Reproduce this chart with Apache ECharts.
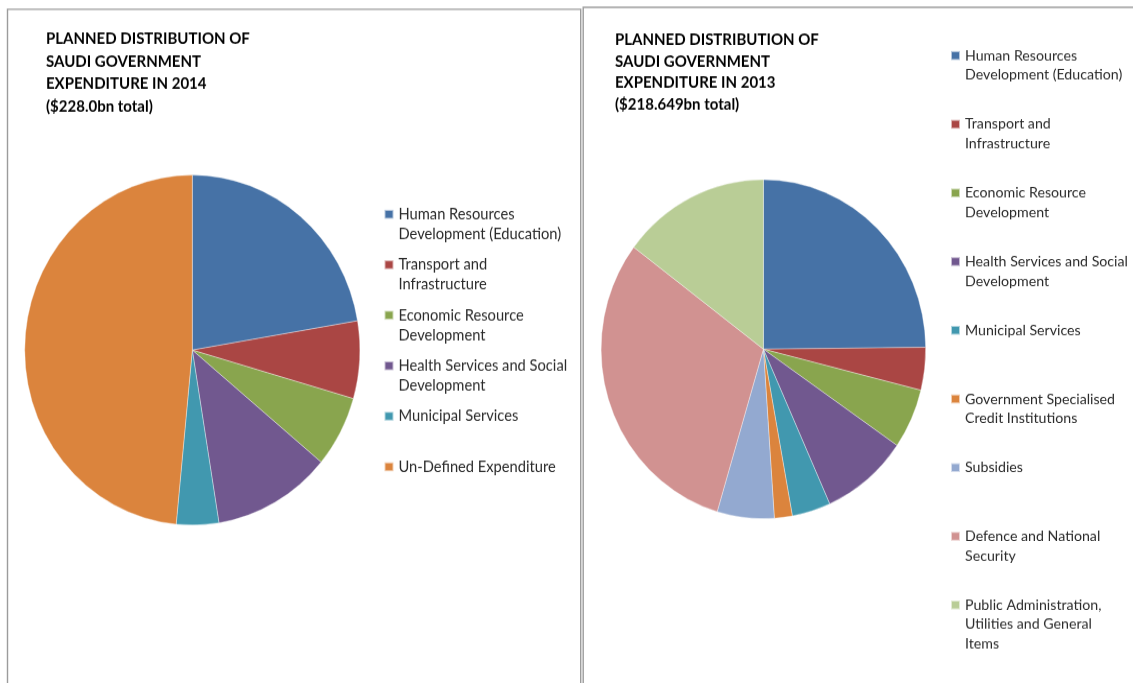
<!DOCTYPE html>
<html>
<head>
<meta charset="utf-8">
<script src="https://cdn.jsdelivr.net/npm/echarts@6/dist/echarts.min.js"></script>
<style>
html,body{margin:0;padding:0;background:#fff;width:1133px;height:683px;overflow:hidden;}
#c{width:1133px;height:654px;transform:scaleY(1.04434);transform-origin:0 0;}
</style>
</head>
<body>
<div id="c"></div>
<script>
// ---- data ----
const cats2014 = [
  'Human Resources Development (Education)',
  'Transport and Infrastructure',
  'Economic Resource Development',
  'Health Services and Social Development',
  'Municipal Services',
  'Un-Defined Expenditure'
];
const vals2014 = [50.9, 16.3, 15.0, 26.0, 9.3, 110.5];
const legendLines2014 = [
  ['Human Resources', 'Development (Education)'],
  ['Transport and', 'Infrastructure'],
  ['Economic Resource', 'Development'],
  ['Health Services and Social', 'Development'],
  ['Municipal Services'],
  ['Un-Defined Expenditure']
];

const cats2013 = [
  'Human Resources Development (Education)',
  'Transport and Infrastructure',
  'Economic Resource Development',
  'Health Services and Social Development',
  'Municipal Services',
  'Government Specialised Credit Institutions',
  'Subsidies',
  'Defence and National Security',
  'Public Administration, Utilities and General Items'
];
const vals2013 = [54.3, 8.9, 12.5, 19.0, 8.4, 3.9, 12.4, 67.1, 32.2];
const legendLines2013 = [
  ['Human Resources', 'Development (Education)'],
  ['Transport and', 'Infrastructure'],
  ['Economic Resource', 'Development'],
  ['Health Services and Social', 'Development'],
  ['Municipal Services'],
  ['Government Specialised', 'Credit Institutions'],
  ['Subsidies'],
  ['Defence and National', 'Security'],
  ['Public Administration,', 'Utilities and General', 'Items']
];

const title2014 = 'PLANNED DISTRIBUTION OF\nSAUDI GOVERNMENT\nEXPENDITURE IN 2014\n($228.0bn total)';
const title2013 = 'PLANNED DISTRIBUTION OF\nSAUDI GOVERNMENT\nEXPENDITURE IN 2013\n($218.649bn total)';

// ---- styles ----
const colors2014 = ['#4672A6', '#AA4644', '#89A54E', '#71588F', '#4198AF', '#DB843D'];
const colors2013 = ['#4672A6', '#AA4644', '#89A54E', '#71588F', '#4198AF', '#DB843D', '#93A9D0', '#D19291', '#B9CD96'];

function padLines(lines, n) {
  const k = Math.floor((n - 1) / 2);
  const out = [];
  for (let i = 0; i < k; i++) out.push('');
  lines.forEach(l => out.push(l));
  while (out.length < n) out.push('');
  return out.join('\n');
}
function makeFormatter(cats, lines, n) {
  const map = {};
  cats.forEach((c, i) => { map[c] = padLines(lines[i], n); });
  return name => map[name];
}

const chart = echarts.init(document.getElementById('c'), null, {renderer: 'canvas'});
const FONT = 'Lato, "Open Sans", sans-serif';

const option = {
  animation: false,
  backgroundColor: '#ffffff',
  title: [
    {
      text: title2014, left: 46, top: 26.0, padding: 0,
      textStyle: {fontFamily: FONT, fontWeight: 'bold', fontSize: 15, lineHeight: 21.8, color: '#000'}
    },
    {
      text: title2013, left: 615, top: 27.6, padding: 0,
      textStyle: {fontFamily: FONT, fontWeight: 'bold', fontSize: 15, lineHeight: 20.8, color: '#000'}
    }
  ],
  legend: [
    {
      orient: 'vertical', left: 383.5, top: 176.4, padding: 0,
      itemWidth: 9, itemHeight: 8.5, itemGap: -9.09, icon: 'rect',
      selectedMode: false,
      data: cats2014,
      formatter: makeFormatter(cats2014, legendLines2014, 3),
      textStyle: {fontFamily: FONT, fontSize: 14.7, lineHeight: 19.15, color: '#2b2b2b'}
    },
    {
      orient: 'vertical', left: 950, top: 6.89, padding: 0,
      itemWidth: 9, itemHeight: 8.5, itemGap: -26.73, icon: 'rect',
      selectedMode: false,
      data: cats2013,
      formatter: makeFormatter(cats2013, legendLines2013, 5),
      textStyle: {fontFamily: FONT, fontSize: 14.2, lineHeight: 18.5, color: '#2b2b2b'}
    }
  ],
  graphic: [
    {type: 'rect', silent: true, shape: {x: 7.5, y: 8.9, width: 573.2, height: 700},
     style: {fill: 'none', stroke: '#9c9c9c', lineWidth: 1.4}},
    {type: 'rect', silent: true, shape: {x: 583.2, y: 7.0, width: 600, height: 700},
     style: {fill: 'none', stroke: '#9c9c9c', lineWidth: 1.4}}
  ],
  series: [
    {
      type: 'pie', name: '2014', center: [192.3, 335.2], radius: 167.6,
      startAngle: 90, clockwise: true, silent: true,
      label: {show: false}, labelLine: {show: false},
      emphasis: {disabled: true},
      itemStyle: {borderColor: 'rgba(255,255,255,0.6)', borderWidth: 0.6},
      data: cats2014.map((c, i) => ({name: c, value: vals2014[i], itemStyle: {color: colors2014[i]}}))
    },
    {
      type: 'pie', name: '2013', center: [763.4, 334.3], radius: 162.3,
      startAngle: 90, clockwise: true, silent: true,
      label: {show: false}, labelLine: {show: false},
      emphasis: {disabled: true},
      itemStyle: {borderColor: 'rgba(255,255,255,0.6)', borderWidth: 0.6},
      data: cats2013.map((c, i) => ({name: c, value: vals2013[i], itemStyle: {color: colors2013[i]}}))
    }
  ]
};
chart.setOption(option);
</script>
</body>
</html>
